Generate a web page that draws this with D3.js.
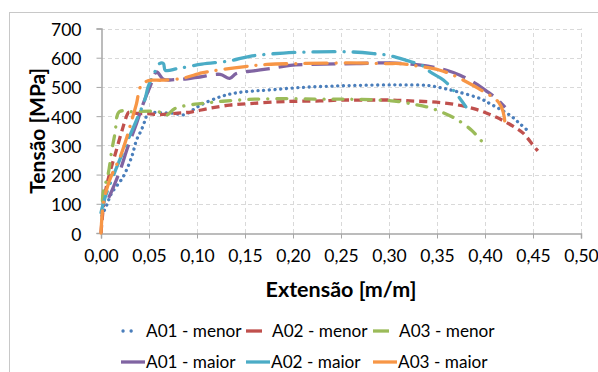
<!DOCTYPE html>
<html>
<head>
<meta charset="utf-8">
<script src="https://cdn.jsdelivr.net/npm/d3@7"></script>
<style>
  body { margin: 0; background: #fff; }
  text { font-family: Lato, "Liberation Sans", sans-serif; }
</style>
</head>
<body>
<div id="chart"></div>
<script>
// strain [m/m], stress [MPa]
var a01Menor = [[0.001, 60], [0.006, 96], [0.011, 136], [0.023, 192], [0.032, 261], [0.037, 318], [0.042, 352],
  [0.046, 386], [0.049, 410], [0.06, 412], [0.075, 410], [0.087, 405], [0.095, 420], [0.105, 440], [0.124, 466],
  [0.138, 478], [0.155, 485], [0.173, 489], [0.207, 498], [0.242, 503], [0.277, 506], [0.311, 507], [0.34, 505],
  [0.357, 495], [0.372, 483], [0.395, 460], [0.405, 443], [0.426, 403], [0.436, 375], [0.443, 355]];

var a02Menor = [[0, 0], [0.004, 130], [0.009, 204], [0.015, 272], [0.022, 352], [0.027, 403], [0.029, 413],
  [0.039, 409], [0.049, 409], [0.06, 405], [0.08, 410], [0.095, 415], [0.112, 426], [0.134, 438], [0.155, 443],
  [0.183, 449], [0.204, 451], [0.228, 452], [0.249, 455], [0.273, 455], [0.303, 455], [0.322, 452], [0.344, 449],
  [0.367, 441], [0.391, 423], [0.412, 396], [0.433, 358], [0.44, 341], [0.45, 301], [0.455, 281]];

var a03Menor = [[0.0015, 110], [0.0024, 141], [0.0076, 204], [0.011, 278], [0.0146, 341], [0.019, 415],
  [0.032, 415], [0.06, 415], [0.068, 403], [0.077, 426], [0.098, 441], [0.11, 445], [0.127, 451], [0.16, 458],
  [0.195, 460], [0.228, 458], [0.256, 458], [0.29, 455], [0.31, 450], [0.325, 441], [0.339, 432], [0.357, 411],
  [0.372, 386], [0.386, 352], [0.391, 335], [0.4, 301]];

var a01Maior = [[0.008, 120], [0.013, 158], [0.02, 215], [0.028, 295], [0.037, 375], [0.044, 443], [0.051, 500],
  [0.058, 551], [0.065, 526], [0.077, 525], [0.09, 528], [0.103, 534], [0.124, 543], [0.134, 529], [0.141, 546],
  [0.159, 555], [0.176, 563], [0.197, 574], [0.232, 578], [0.266, 580], [0.301, 582], [0.339, 572], [0.36, 557],
  [0.374, 540], [0.39, 512], [0.402, 485], [0.412, 460], [0.421, 430]];

var a02Maior = [[0, 70], [0.004, 119], [0.009, 164], [0.018, 238], [0.028, 318], [0.037, 386], [0.046, 460],
  [0.049, 500], [0.056, 551], [0.061, 580], [0.065, 580], [0.067, 557], [0.08, 563], [0.105, 578], [0.134, 589],
  [0.155, 605], [0.19, 616], [0.225, 620], [0.259, 620], [0.284, 614], [0.301, 607], [0.318, 591], [0.336, 571],
  [0.343, 551], [0.357, 523], [0.37, 477], [0.38, 432]];

var a03Maior = [[0, 0], [0.001, 56], [0.0024, 102], [0.009, 181], [0.02, 261], [0.027, 329], [0.032, 386],
  [0.037, 443], [0.041, 500], [0.046, 517], [0.053, 523], [0.063, 523], [0.084, 529], [0.105, 548], [0.117, 555],
  [0.148, 569], [0.173, 577], [0.207, 580], [0.26, 582], [0.298, 580], [0.311, 580], [0.325, 574], [0.353, 557],
  [0.367, 540], [0.381, 517], [0.393, 495], [0.412, 455], [0.417, 432], [0.42, 398], [0.421, 358]];

var seriesNames = ["A01 - menor", "A02 - menor", "A03 - menor", "A01 - maior", "A02 - maior", "A03 - maior"];
var seriesData = [a01Menor, a02Menor, a03Menor, a01Maior, a02Maior, a03Maior];
var colors = ["#4a7ebb", "#c0504d", "#9bbb59", "#8064a2", "#4bacc6", "#f79646"];
var dashes = ["0.1 5.6", "8 5", "10 9 0.1 9", "24 9", "22 9 0.1 9", "22 9 0.1 9"];
var caps = ["round", "butt", "round", "butt", "round", "round"];

var xTicks = d3.range(0, 0.501, 0.05);
var yTicks = d3.range(0, 701, 100);

var svgWidth = 598;
var svgHeight = 372;

var svg = d3.select("#chart")
  .append("svg")
  .attr("width", svgWidth)
  .attr("height", svgHeight);

// outer frame (right and bottom edges fall outside the picture)
svg.append("rect")
  .attr("x", 9.5)
  .attr("y", 12.5)
  .attr("width", 700)
  .attr("height", 500)
  .attr("fill", "none")
  .attr("stroke", "#c8c8c8");

var x = d3.scaleLinear().domain([0, 0.5]).range([101, 581]);
var y = d3.scaleLinear().domain([0, 700]).range([233, 28.5]);

// grid
svg.append("g")
  .selectAll("line")
  .data(yTicks.slice(1))
  .enter()
  .append("line")
  .attr("x1", x(0))
  .attr("x2", x(0.5))
  .attr("y1", d => Math.round(y(d)) + 0.5)
  .attr("y2", d => Math.round(y(d)) + 0.5)
  .attr("stroke", "#d9d9d9")
  .attr("stroke-dasharray", "4 3");

svg.append("g")
  .selectAll("line")
  .data(xTicks.slice(1))
  .enter()
  .append("line")
  .attr("x1", d => Math.round(x(d)) + 0.5)
  .attr("x2", d => Math.round(x(d)) + 0.5)
  .attr("y1", y(0))
  .attr("y2", y(700))
  .attr("stroke", "#d9d9d9")
  .attr("stroke-dasharray", "4 3");

// axes
var xAxis = svg.append("g")
  .attr("transform", `translate(0, ${Math.round(y(0)) + 0.5})`)
  .call(d3.axisBottom(x).tickValues(xTicks).tickSize(5).tickPadding(8)
    .tickFormat(d => d3.format(".2f")(d).replace(".", ",")));

var yAxis = svg.append("g")
  .attr("transform", `translate(${Math.round(x(0)) + 0.5}, 0)`)
  .call(d3.axisLeft(y).tickValues(yTicks).tickSize(5).tickPadding(15));

[xAxis, yAxis].forEach(function(ax) {
  ax.select(".domain").attr("stroke", "#a6a6a6").attr("stroke-width", 1.5);
  ax.selectAll(".tick line").attr("stroke", "#a6a6a6");
  ax.selectAll(".tick text")
    .attr("fill", "#000")
    .style("font-family", "Lato, sans-serif")
    .style("font-size", "17.5px");
});
yAxis.selectAll(".tick text").attr("dy", "0.4em");
xAxis.selectAll(".tick text").attr("dy", "0.9em");

// axis titles
svg.append("text")
  .attr("transform", `translate(45, ${(y(0) + y(700)) / 2}) rotate(-90)`)
  .attr("text-anchor", "middle")
  .attr("font-weight", "bold")
  .attr("font-size", "21px")
  .text("Tensão [MPa]");

svg.append("text")
  .attr("x", (x(0) + x(0.5)) / 2)
  .attr("y", 297)
  .attr("text-anchor", "middle")
  .attr("font-weight", "bold")
  .attr("font-size", "21.5px")
  .text("Extensão [m/m]");

// curves
var curveLine = d3.line()
  .x(d => x(d[0]))
  .y(d => y(d[1]))
  .curve(d3.curveCatmullRom);

svg.append("g")
  .selectAll("path")
  .data(seriesData)
  .enter()
  .append("path")
  .attr("d", d => curveLine(d))
  .attr("fill", "none")
  .attr("stroke", (d, i) => colors[i])
  .attr("stroke-width", 3.3)
  .attr("stroke-dasharray", (d, i) => dashes[i])
  .attr("stroke-linecap", (d, i) => caps[i]);

// legend
var legendX = [121, 246, 373];
var legendLen = [18, 16, 16, 24, 24, 24];
var legendRows = [331, 362];

var legend = svg.append("g");
seriesNames.forEach(function(name, i) {
  var row = Math.floor(i / 3);
  var col = i % 3;
  var lx = legendX[col];
  var ly = legendRows[row];
  var len = legendLen[i];
  legend.append("line")
    .attr("x1", lx + (i === 0 ? 2 : 0))
    .attr("x2", lx + len)
    .attr("y1", ly)
    .attr("y2", ly)
    .attr("stroke", colors[i])
    .attr("stroke-width", 3.3)
    .attr("stroke-linecap", i === 0 ? "round" : "butt")
    .attr("stroke-dasharray", i === 0 ? "0.1 8" : null);
  legend.append("text")
    .attr("x", lx + (row === 0 ? (col === 0 ? 25 : 26) : 25))
    .attr("y", ly)
    .attr("dy", "0.36em")
    .attr("font-size", "17.2px")
    .text(name);
});
</script>
</body>
</html>
